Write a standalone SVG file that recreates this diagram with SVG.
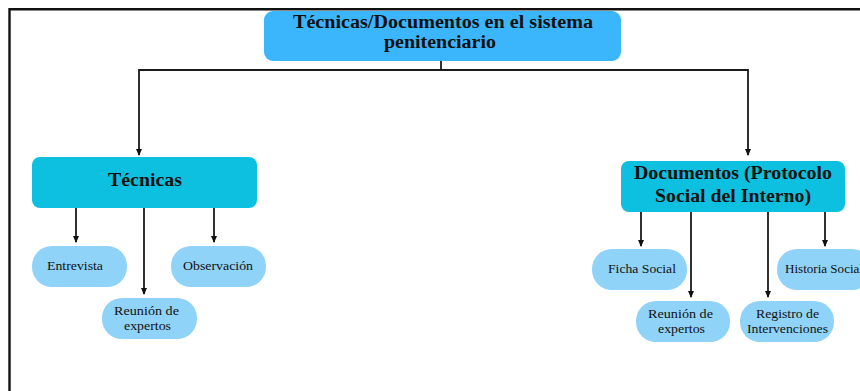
<svg xmlns="http://www.w3.org/2000/svg" width="860" height="391" viewBox="0 0 860 391">
<defs>
<marker id="ah" markerWidth="7" markerHeight="6" refX="6" refY="3" orient="auto" markerUnits="userSpaceOnUse">
<path d="M0,0 L7,3 L0,6 Z" fill="#111"/>
</marker>
<style>
.t{font-family:"Liberation Serif","Times New Roman",serif;fill:#111;}
.h{font-weight:bold;font-size:18px;}
.c{font-size:13px;}
.top{fill:#3BB6FD;}
.mid{fill:#0EC0E0;}
.leaf{fill:#8FD3F8;}
.ln{stroke:#1a1a1a;stroke-width:1.8;fill:none;}
.ar{stroke:#1a1a1a;stroke-width:1.8;fill:none;marker-end:url(#ah);}
</style>
</defs>
<rect width="860" height="391" fill="#fff"/>
<path d="M9.5,391 V9.3 H860" stroke="#111" stroke-width="2.4" fill="none"/>

<g id="connectors">
<path class="ln" d="M441,61 V70"/>
<path class="ar" d="M441,70 H139 V155"/>
<path class="ar" d="M441,70 H748 V155"/>
<path class="ar" d="M76,208 V242"/>
<path class="ar" d="M144,208 V294"/>
<path class="ar" d="M214,208 V242"/>
<path class="ar" d="M641,212 V246"/>
<path class="ar" d="M691,212 V297"/>
<path class="ar" d="M768,212 V297"/>
<path class="ar" d="M825,212 V246"/>
</g>

<g id="root">
<rect class="top" x="264" y="11" width="357" height="50" rx="9"/>
<text class="t h" x="443" y="28" text-anchor="middle" textLength="300" lengthAdjust="spacingAndGlyphs">Técnicas/Documentos en el sistema</text>
<text class="t h" x="440" y="48" text-anchor="middle" textLength="112" lengthAdjust="spacingAndGlyphs">penitenciario</text>
</g>

<g id="tecnicas">
<rect class="mid" x="32" y="157" width="225" height="51" rx="8"/>
<text class="t h" x="145" y="186" text-anchor="middle" textLength="74" lengthAdjust="spacingAndGlyphs">Técnicas</text>
</g>

<g id="documentos">
<rect class="mid" x="621" y="161" width="224" height="51" rx="8"/>
<text class="t h" x="733" y="179" text-anchor="middle" textLength="198" lengthAdjust="spacingAndGlyphs">Documentos (Protocolo</text>
<text class="t h" x="733" y="202" text-anchor="middle" textLength="156" lengthAdjust="spacingAndGlyphs">Social del Interno)</text>
</g>

<g id="entrevista">
<rect class="leaf" x="32" y="246" width="95" height="41" rx="20"/>
<text class="t c" x="75" y="270" text-anchor="middle" textLength="56" lengthAdjust="spacingAndGlyphs">Entrevista</text>
</g>

<g id="observacion">
<rect class="leaf" x="171" y="246" width="95" height="41" rx="20"/>
<text class="t c" x="218" y="270" text-anchor="middle" textLength="70" lengthAdjust="spacingAndGlyphs">Observación</text>
</g>

<g id="reunion1">
<rect class="leaf" x="102" y="298" width="95" height="41" rx="20"/>
<text class="t c" x="146.5" y="315" text-anchor="middle" textLength="65" lengthAdjust="spacingAndGlyphs">Reunión de</text>
<text class="t c" x="147.5" y="330" text-anchor="middle" textLength="47" lengthAdjust="spacingAndGlyphs">expertos</text>
</g>

<g id="ficha">
<rect class="leaf" x="592" y="249" width="95" height="41" rx="20"/>
<text class="t c" x="642" y="273" text-anchor="middle" textLength="68" lengthAdjust="spacingAndGlyphs">Ficha Social</text>
</g>

<g id="historia">
<rect class="leaf" x="777" y="249" width="95" height="41" rx="20"/>
<text class="t c" x="785" y="273" textLength="78" lengthAdjust="spacingAndGlyphs">Historia Social</text>
</g>

<g id="reunion2">
<rect class="leaf" x="636" y="301" width="94" height="41" rx="20"/>
<text class="t c" x="680.5" y="318" text-anchor="middle" textLength="65" lengthAdjust="spacingAndGlyphs">Reunión de</text>
<text class="t c" x="681.5" y="333" text-anchor="middle" textLength="47" lengthAdjust="spacingAndGlyphs">expertos</text>
</g>

<g id="registro">
<rect class="leaf" x="740" y="301" width="94" height="41" rx="20"/>
<text class="t c" x="787.5" y="318" text-anchor="middle" textLength="63" lengthAdjust="spacingAndGlyphs">Registro de</text>
<text class="t c" x="787.5" y="333" text-anchor="middle" textLength="81" lengthAdjust="spacingAndGlyphs">Intervenciones</text>
</g>
</svg>
